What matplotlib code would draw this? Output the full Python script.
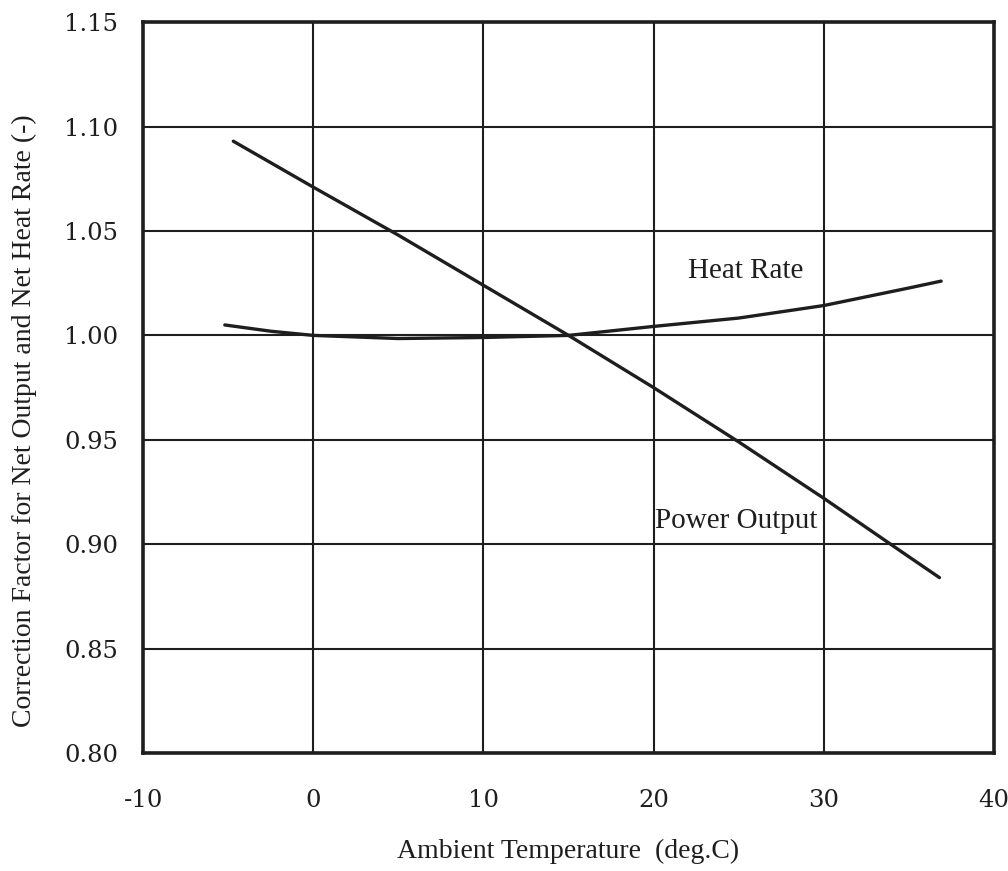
import matplotlib
matplotlib.use("Agg")
import matplotlib.pyplot as plt

plt.rcParams['font.family'] = ['Liberation Serif', 'DejaVu Serif']

temp_power = [-4.7, 0, 5, 10, 15, 20, 25, 30, 35, 36.8]
power_output = [1.093, 1.071, 1.048, 1.024, 1.000, 0.975, 0.949, 0.922, 0.894, 0.884]

temp_heat = [-5.2, -2.5, 0, 5, 10, 15, 20, 25, 30, 35, 36.9]
heat_rate = [1.005, 1.002, 1.000, 0.9985, 0.999, 1.000, 1.0043, 1.0083, 1.0143, 1.0227, 1.026]

x_ticks = [-10, 0, 10, 20, 30, 40]
y_ticks = [0.80, 0.85, 0.90, 0.95, 1.00, 1.05, 1.10, 1.15]

ink = '#1e1e1e'

fig = plt.figure(figsize=(10.08, 8.71), dpi=100)
ax = fig.add_axes([0.142, 0.1355, 0.844, 0.839])

ax.plot(temp_power, power_output, color=ink, lw=2.4, solid_capstyle='round')
ax.plot(temp_heat, heat_rate, color=ink, lw=2.4, solid_capstyle='round')

ax.text(22.0, 1.031, 'Heat Rate', fontsize=21, color=ink, va='center', ha='left')
ax.text(20.1, 0.911, 'Power Output', fontsize=21, color=ink, va='center', ha='left')

ax.set_xlim(-10, 40)
ax.set_ylim(0.80, 1.15)
ax.set_xticks(x_ticks)
ax.set_yticks(y_ticks)
ax.set_xticklabels([str(t) for t in x_ticks], family='DejaVu Serif')
ax.set_yticklabels([f'{t:.2f}' for t in y_ticks], family='DejaVu Serif')
ax.tick_params(length=0, labelsize=17.5, colors=ink)
ax.tick_params(axis='x', pad=26)
ax.tick_params(axis='y', pad=18)

ax.grid(True, color=ink, lw=1.5)
ax.set_axisbelow(True)
for s in ax.spines.values():
    s.set_linewidth(2.6)
    s.set_color(ink)

ax.set_xlabel('Ambient Temperature  (deg.C)', fontsize=20, color=ink)
ax.xaxis.set_label_coords(0.5, -0.118)
ax.set_ylabel('Correction Factor for Net Output and Net Heat Rate (-)', fontsize=20, color=ink)
ax.yaxis.set_label_coords(-0.125, 0.455)

fig.savefig('out.png', dpi=100)
